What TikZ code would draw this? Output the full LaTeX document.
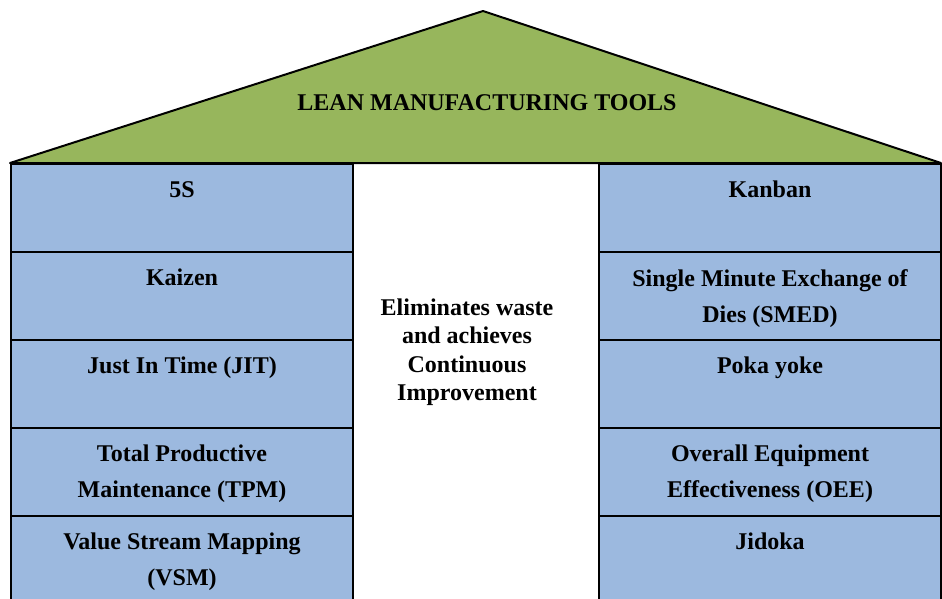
\documentclass[tikz,border=0pt]{standalone}
\usepackage{fontspec}
\setmainfont{Liberation Serif}
\usetikzlibrary{positioning}
\definecolor{toolblue}{RGB}{156,185,223}
\definecolor{roofgreen}{RGB}{151,182,92}

\begin{document}
\begin{tikzpicture}[
    x = 1pt,
    y = -1pt,
    toolbox/.style = {draw, line width=2pt, fill=toolblue, anchor=north west,
      minimum width=342pt, minimum height=88pt, inner sep=0pt},
    tooltext/.style = {anchor=north, inner sep=0pt, align=center,
      font=\fontsize{24}{36}\selectfont\bfseries},
    ]
    \useasboundingbox (0,0) rectangle (942,598);
    \clip (0,0) rectangle (942,598);
    % roof
    \draw[line width=2pt, fill=roofgreen, line join=round]
    (10,163) -- (483,11) -- (941,163) -- cycle;
    \node[font=\fontsize{24}{30}\selectfont\bfseries] (title) at (487,103)
    {LEAN MANUFACTURING TOOLS};
    % left pillar
    \foreach \t [count=\i from 0] in {{5S}, {Kaizen}, {Just In Time (JIT)},
      {Total Productive\\Maintenance (TPM)}, {Value Stream Mapping\\(VSM)}}
    {
      \node[toolbox] (left\i) at (10, {163+88*\i}) {};
      \node[tooltext, below=18pt of left\i.north] (lefttext\i) {\t};
    }
    % right pillar
    \foreach \t [count=\i from 0] in {{Kanban}, {Single Minute Exchange of\\Dies (SMED)},
      {Poka yoke}, {Overall Equipment\\Effectiveness (OEE)}, {Jidoka}}
    {
      \node[toolbox] (right\i) at (598, {163+88*\i}) {};
      \node[tooltext, below=18pt of right\i.north] (righttext\i) {\t};
    }
    % middle
    \node[tooltext, anchor=center, font=\fontsize{24}{28.5}\selectfont\bfseries]
    (goal) at (467,352)
    {Eliminates waste\\and achieves\\Continuous\\Improvement};
  \end{tikzpicture}
\end{document}
